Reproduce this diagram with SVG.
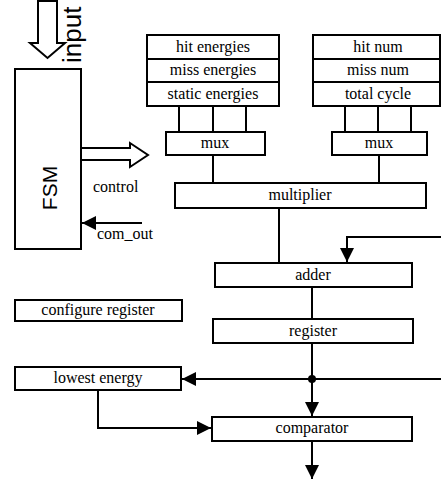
<svg xmlns="http://www.w3.org/2000/svg" width="441" height="481" viewBox="0 0 441 481">
<style>
.box{fill:#fff;stroke:#000;stroke-width:2}
.t{font-family:"Liberation Serif","Times New Roman",serif;font-size:16px;fill:#000}
.c{text-anchor:middle}
.s{font-family:"Liberation Sans",Arial,sans-serif;fill:#000}
.ln{fill:none;stroke:#000;stroke-width:2}
.hollow{fill:#fff;stroke:#000;stroke-width:2}
</style>
<defs>
<marker id="ah" markerUnits="userSpaceOnUse" markerWidth="14" markerHeight="14" refX="14" refY="7" orient="auto">
<path d="M0,0 L14,7 L0,14 z" fill="#000"/>
</marker>
</defs>
<rect width="441" height="481" fill="#fff"/>

<g id="connectors">
<polygon class="hollow" points="38,1 57,1 57,43 65,43 47.5,58 30,43 38,43"/>
<polygon class="hollow" points="81,148 130,148 130,143 148,155 130,167 130,160 81,160"/>
<line class="ln" x1="142" y1="223" x2="82" y2="223" marker-end="url(#ah)"/>
<line class="ln" x1="179" y1="106" x2="179" y2="132"/>
<line class="ln" x1="213" y1="106" x2="213" y2="132"/>
<line class="ln" x1="246" y1="106" x2="246" y2="132"/>
<line class="ln" x1="345" y1="106" x2="345" y2="132"/>
<line class="ln" x1="378" y1="106" x2="378" y2="132"/>
<line class="ln" x1="411" y1="106" x2="411" y2="132"/>
<line class="ln" x1="213" y1="155" x2="213" y2="183"/>
<line class="ln" x1="379" y1="155" x2="379" y2="183"/>
<line class="ln" x1="279" y1="208" x2="279" y2="263"/>
<polyline class="ln" points="441,237 347,237 347,262" marker-end="url(#ah)"/>
<line class="ln" x1="312" y1="287" x2="312" y2="319"/>
<line class="ln" x1="312" y1="343" x2="312" y2="379"/>
<line class="ln" x1="312" y1="379" x2="312" y2="416" marker-end="url(#ah)"/>
<line class="ln" x1="441" y1="379" x2="182" y2="379" marker-end="url(#ah)"/>
<polyline class="ln" points="98,390 98,428 211,428" marker-end="url(#ah)"/>
<line class="ln" x1="312" y1="441" x2="312" y2="479" marker-end="url(#ah)"/>
<circle cx="312" cy="379" r="4" fill="#000"/>
</g>

<g id="input-label">
<text class="s" font-size="26" transform="translate(81,63) rotate(-90)">input</text>
</g>

<g id="fsm">
<rect class="box" x="15" y="69" width="66" height="180"/>
<text class="s c" font-size="21" transform="translate(57,188) rotate(-90)">FSM</text>
</g>

<g id="control-label"><text class="t" x="93" y="192">control</text></g>
<g id="com-out-label"><text class="t" x="97" y="239">com_out</text></g>

<g id="energies">
<rect class="box" x="147" y="35" width="132" height="24"/>
<rect class="box" x="147" y="59" width="132" height="23"/>
<rect class="box" x="147" y="82" width="132" height="24"/>
<text class="t c" x="213" y="52">hit energies</text>
<text class="t c" x="213" y="75">miss energies</text>
<text class="t c" x="213" y="99">static energies</text>
</g>

<g id="counts">
<rect class="box" x="313" y="35" width="127" height="24"/>
<rect class="box" x="313" y="59" width="127" height="23"/>
<rect class="box" x="313" y="82" width="127" height="24"/>
<text class="t c" x="378" y="52">hit num</text>
<text class="t c" x="378" y="75">miss num</text>
<text class="t c" x="378" y="99">total cycle</text>
</g>

<g id="mux-left">
<rect class="box" x="166" y="132" width="99" height="23"/>
<text class="t c" x="215" y="148">mux</text>
</g>

<g id="mux-right">
<rect class="box" x="332" y="132" width="95" height="23"/>
<text class="t c" x="379" y="148">mux</text>
</g>

<g id="multiplier">
<rect class="box" x="175" y="183" width="251" height="25"/>
<text class="t c" x="300" y="200">multiplier</text>
</g>

<g id="adder">
<rect class="box" x="215" y="263" width="197" height="24"/>
<text class="t c" x="313" y="280">adder</text>
</g>

<g id="configure-register">
<rect class="box" x="15" y="300" width="167" height="21"/>
<text class="t c" x="98" y="315">configure register</text>
</g>

<g id="register">
<rect class="box" x="213" y="319" width="200" height="24"/>
<text class="t c" x="313" y="336">register</text>
</g>

<g id="lowest-energy">
<rect class="box" x="15" y="367" width="166" height="23"/>
<text class="t c" x="98" y="383">lowest energy</text>
</g>

<g id="comparator">
<rect class="box" x="212" y="417" width="200" height="24"/>
<text class="t c" x="312" y="433">comparator</text>
</g>
</svg>
